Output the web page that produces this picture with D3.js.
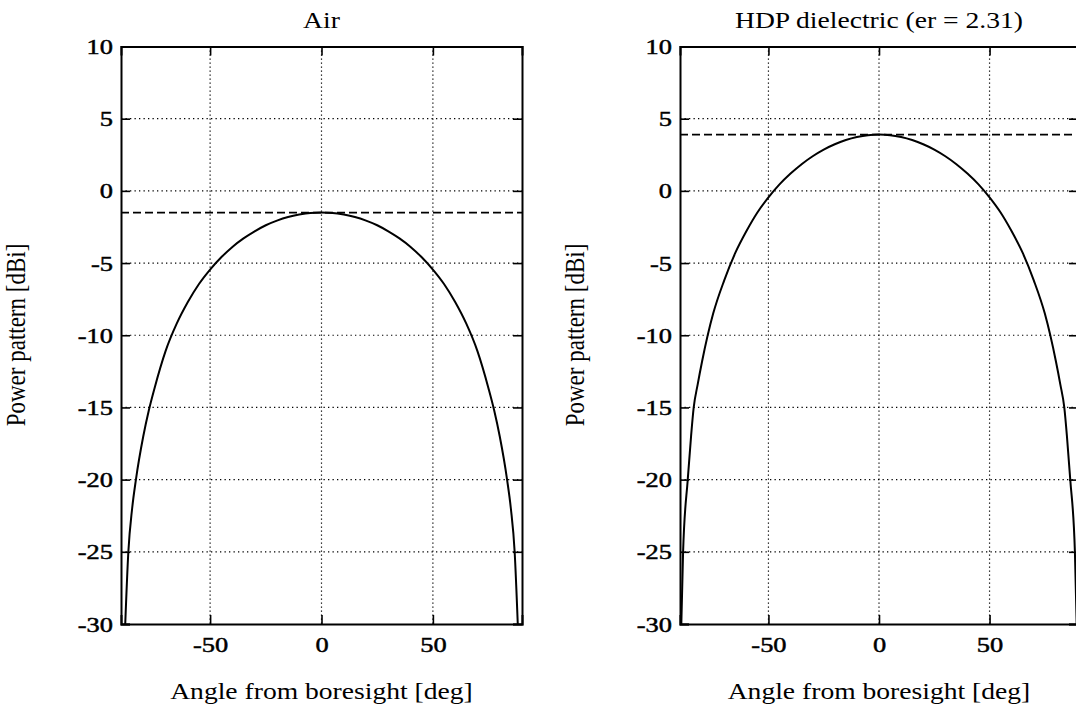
<!DOCTYPE html>
<html>
<head>
<meta charset="utf-8">
<script src="https://cdn.jsdelivr.net/npm/d3@7"></script>
<style>
  body { margin: 0; background: #fff; }
  text { font-family: "Liberation Serif", "Times New Roman", serif; fill: #000; }
</style>
</head>
<body>
<div id="vis"></div>
<script>
// ----------DATA-------------------------------------
const AIR_ANGLE = [-88.1, -86.7, -85, -83.3, -80, -77.5, -75, -70, -65, -60, -55, -50, -45, -40, -35, -30, -25, -20, -15, -10, -5, 0,
                   5, 10, 15, 20, 25, 30, 35, 40, 45, 50, 55, 60, 65, 70, 75, 77.5, 80, 83.3, 85, 86.7, 88.1];
const AIR_GAIN = [-30, -25, -22.0, -20, -17.0, -15.2, -13.7, -11.1, -9.2, -7.7, -6.45, -5.45, -4.6, -3.88, -3.29, -2.8, -2.38, -2.06, -1.81, -1.64, -1.53, -1.5,
                  -1.53, -1.64, -1.81, -2.06, -2.38, -2.8, -3.29, -3.88, -4.6, -5.45, -6.45, -7.7, -9.2, -11.1, -13.7, -15.2, -17.0, -20, -22.0, -25, -30];
const AIR_PEAK = -1.5;

const HDP_ANGLE = [-89.4, -88.6, -86.5, -85, -83.8, -82, -80, -75, -70, -65, -60, -55, -50, -45, -40, -35, -30, -25, -20, -15, -10, -5, 0,
                   5, 10, 15, 20, 25, 30, 35, 40, 45, 50, 55, 60, 65, 70, 75, 80, 82, 83.8, 85, 86.5, 88.6, 89.4];
const HDP_GAIN = [-30, -25, -20, -17, -15, -13.4, -11.8, -8.5, -6.2, -4.3, -2.8, -1.5, -0.45, 0.45, 1.2, 1.85, 2.4, 2.86, 3.23, 3.52, 3.73, 3.86, 3.9,
                  3.86, 3.73, 3.52, 3.23, 2.86, 2.4, 1.85, 1.2, 0.45, -0.45, -1.5, -2.8, -4.3, -6.2, -8.5, -11.8, -13.4, -15, -17, -20, -25, -30];
const HDP_PEAK = 3.9;

const TITLES = ["Air", "HDP dielectric (er = 2.31)"];
const X_TICKS = [-50, 0, 50];
const Y_TICKS = [10, 5, 0, -5, -10, -15, -20, -25, -30];
const X_LABEL = "Angle from boresight [deg]";
const Y_LABEL = "Power pattern [dBi]";

// ----------PAGE SETUP----------------
const FRAME_WIDTH = 1076;
const FRAME_HEIGHT = 709;
const TOP = 46.5;
const BOTTOM = 624;
const STRETCH = "scale(1.2,1)";   // the scanned lettering is wider than plain Times
const PANELS = [
  { left: 121, right: 522, angle: AIR_ANGLE, gain: AIR_GAIN, peak: AIR_PEAK, title: TITLES[0] },
  { left: 680, right: 1078, angle: HDP_ANGLE, gain: HDP_GAIN, peak: HDP_PEAK, title: TITLES[1] }
];

const FRAME = d3.select("#vis")
  .append("svg")
  .attr("width", FRAME_WIDTH)
  .attr("height", FRAME_HEIGHT);

function build_panel(p, i) {
  const x = d3.scaleLinear().domain([-90, 90]).range([p.left, p.right]);
  const y = d3.scaleLinear().domain([-30, 10]).range([BOTTOM, TOP]);
  const g = FRAME.append("g");

  g.append("clipPath").attr("id", "clip" + i)
    .append("rect")
    .attr("x", p.left).attr("y", TOP - 1)
    .attr("width", p.right - p.left).attr("height", BOTTOM - TOP + 1);

  // dotted grid
  g.append("g").selectAll("line")
    .data(X_TICKS)
    .enter().append("line")
      .attr("x1", d => x(d)).attr("x2", d => x(d))
      .attr("y1", TOP).attr("y2", BOTTOM)
      .attr("stroke", "#000").attr("stroke-width", 1.2)
      .attr("stroke-dasharray", "1.3,2.7");
  g.append("g").selectAll("line")
    .data(Y_TICKS.slice(1, -1))
    .enter().append("line")
      .attr("x1", p.left).attr("x2", p.right)
      .attr("y1", d => y(d)).attr("y2", d => y(d))
      .attr("stroke", "#000").attr("stroke-width", 1.2)
      .attr("stroke-dasharray", "1.3,3.2");

  // dashed peak line
  g.append("line")
    .attr("x1", p.left).attr("x2", p.right)
    .attr("y1", y(p.peak)).attr("y2", y(p.peak))
    .attr("stroke", "#000").attr("stroke-width", 1.7)
    .attr("stroke-dasharray", "8,4");

  // pattern curve
  const pts = p.angle.map((a, k) => [a, p.gain[k]]);
  g.append("path")
    .datum(pts)
    .attr("clip-path", "url(#clip" + i + ")")
    .attr("fill", "none")
    .attr("stroke", "#000")
    .attr("stroke-width", 2)
    .attr("d", d3.line().x(d => x(d[0])).y(d => y(d[1])).curve(d3.curveMonotoneX));

  // axes: left/bottom with labels, right/top only inner ticks
  const yAxis = g.append("g")
    .attr("transform", `translate(${p.left},0)`)
    .call(d3.axisLeft(y).tickValues(Y_TICKS).tickSize(-9).tickFormat(d => String(d)));
  yAxis.selectAll(".tick text")
    .attr("x", null)
    .attr("transform", `translate(-8,0) ${STRETCH}`);

  g.append("g")
    .attr("transform", `translate(${p.right},0)`)
    .call(d3.axisRight(y).tickValues(Y_TICKS).tickSize(-9).tickFormat(""));

  const xAxis = g.append("g")
    .attr("transform", `translate(0,${BOTTOM})`)
    .call(d3.axisBottom(x).tickValues(X_TICKS).tickSize(-9).tickFormat(d => String(d)));
  xAxis.selectAll(".tick text")
    .attr("y", 28).attr("dy", 0)
    .attr("transform", STRETCH);

  g.append("g")
    .attr("transform", `translate(0,${TOP})`)
    .call(d3.axisTop(x).tickValues(X_TICKS).tickSize(-9).tickFormat(""));

  g.selectAll(".domain").attr("stroke", "#000").attr("stroke-width", 2);
  g.selectAll(".tick line").attr("stroke", "#000").attr("stroke-width", 1.6);
  g.selectAll(".tick text")
    .attr("font-family", "Liberation Serif")
    .attr("font-size", 22)
    .attr("stroke", "#000").attr("stroke-width", 0.5);

  // title + axis labels
  g.append("text")
    .attr("transform", `translate(${x(0)},28) ${STRETCH}`)
    .attr("text-anchor", "middle")
    .attr("font-size", 23)
    .text(p.title);
  g.append("text")
    .attr("transform", `translate(${x(0)},699) ${STRETCH}`)
    .attr("text-anchor", "middle")
    .attr("font-size", 23)
    .text(X_LABEL);
  g.append("text")
    .attr("transform", `translate(${p.left - 96},335) ${STRETCH} rotate(-90)`)
    .attr("text-anchor", "middle")
    .attr("font-size", 23)
    .text(Y_LABEL);
}

PANELS.forEach(build_panel);
</script>
</body>
</html>
